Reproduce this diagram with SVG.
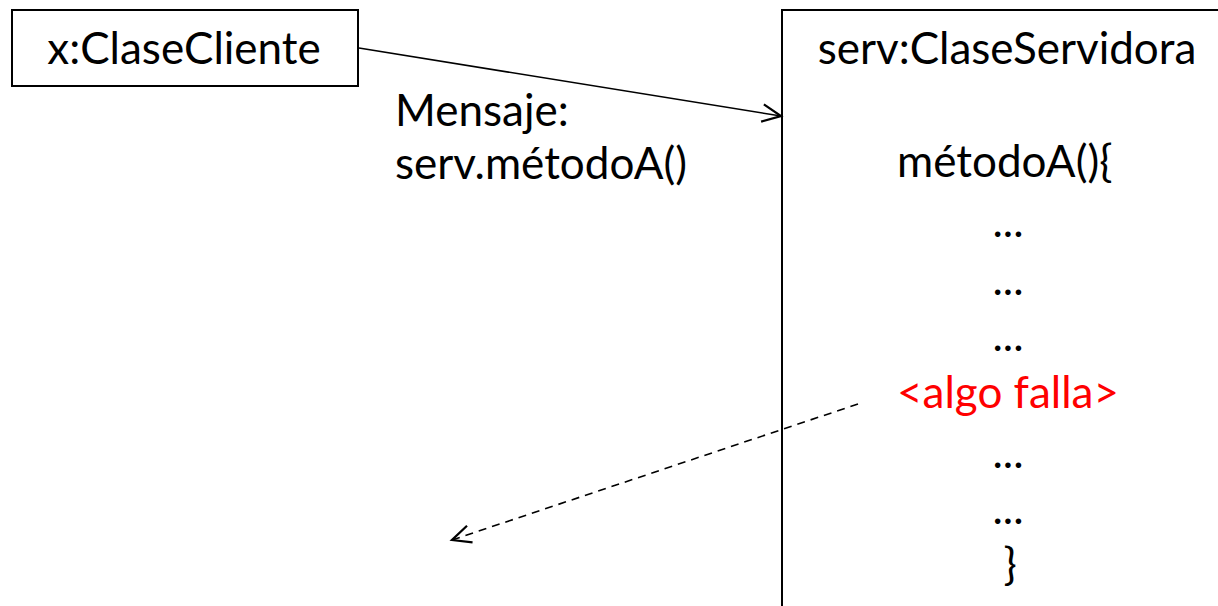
<svg xmlns="http://www.w3.org/2000/svg" width="1218" height="606" viewBox="0 0 1218 606">
  <defs>
    <style>
      .box { fill: #ffffff; stroke: #000000; stroke-width: 2; }
      .lbl { font-family: Lato, "Open Sans", "Liberation Sans", sans-serif; font-size: 44px; fill: #000000; }
      .err { fill: #ff0000; }
      .msg { fill: none; stroke: #000000; stroke-width: 1.6; }
      .ret { fill: none; stroke: #000000; stroke-width: 1.6; stroke-dasharray: 8 6; }
    </style>
    <marker id="open" markerUnits="userSpaceOnUse" markerWidth="30" markerHeight="30" viewBox="-20 -10 24 20" refX="0" refY="0" orient="auto">
      <path d="M-15,-7 L0,0 L-15,7" fill="none" stroke="#000000" stroke-width="1.8"/>
    </marker>
  </defs>

  <rect width="1218" height="606" fill="#ffffff"/>

  <!-- client object -->
  <g id="cliente">
    <rect class="box" x="12" y="10" width="346" height="76"/>
    <text class="lbl" x="184" y="64" text-anchor="middle">x:ClaseCliente</text>
  </g>

  <!-- server object, running past the right and bottom edges -->
  <g id="servidor">
    <rect class="box" x="782" y="10" width="460" height="620"/>
    <text class="lbl" x="1007" y="64" text-anchor="middle">serv:ClaseServidora</text>
    <text class="lbl" x="897" y="177">métodoA(){</text>
    <text class="lbl" x="1008" y="237" text-anchor="middle">...</text>
    <text class="lbl" x="1008" y="295" text-anchor="middle">...</text>
    <text class="lbl" x="1008" y="351" text-anchor="middle">...</text>
    <text class="lbl err" x="1008" y="408" text-anchor="middle">&lt;algo falla&gt;</text>
    <text class="lbl" x="1008" y="468" text-anchor="middle">...</text>
    <text class="lbl" x="1008" y="524" text-anchor="middle">...</text>
    <text class="lbl" x="1010" y="580" text-anchor="middle">}</text>
  </g>

  <!-- message label -->
  <g id="mensaje">
    <text class="lbl" x="395" y="126">Mensaje:</text>
    <text class="lbl" x="395" y="179">serv.métodoA()</text>
  </g>

  <!-- connectors -->
  <g id="connectors">
    <line class="msg" x1="359" y1="48" x2="781" y2="116" marker-end="url(#open)"/>
    <line class="ret" x1="858" y1="404" x2="452" y2="540" marker-end="url(#open)"/>
  </g>
</svg>
